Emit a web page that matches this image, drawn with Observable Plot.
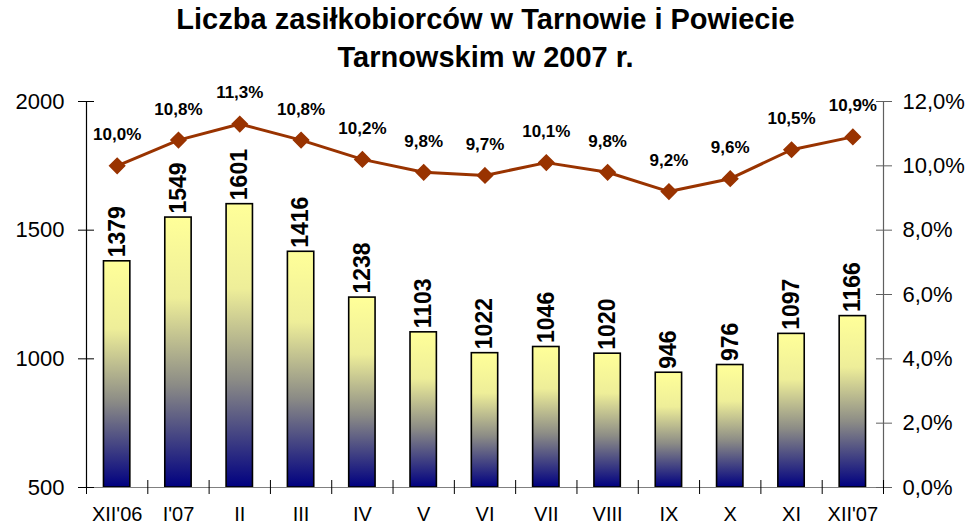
<!DOCTYPE html>
<html>
<head>
<meta charset="utf-8">
<script src="https://cdn.jsdelivr.net/npm/d3@7"></script>
<script src="https://cdn.jsdelivr.net/npm/@observablehq/plot@0.6"></script>
<style>
  html, body { margin: 0; padding: 0; background: #fff; }
  body { width: 975px; height: 528px; overflow: hidden; font-family: "Liberation Sans", Arial, sans-serif; }
  #title { height: 80px; text-align: center; font-weight: bold; font-size: 29px; line-height: 38px; color: #000; padding-top: 0px; box-sizing: border-box; margin-left: -4px; }
  svg { display: block; }
</style>
</head>
<body>
<div id="title">Liczba zasiłkobiorców w Tarnowie i Powiecie<br>Tarnowskim w 2007 r.</div>
<div id="chart"></div>
<script>
const months = ["XII'06", "I'07", "II", "III", "IV", "V", "VI", "VII", "VIII", "IX", "X", "XI", "XII'07"];
const recipients = [1379, 1549, 1601, 1416, 1238, 1103, 1022, 1046, 1020, 946, 976, 1097, 1166];
const rates = [10.0, 10.8, 11.3, 10.8, 10.2, 9.8, 9.7, 10.1, 9.8, 9.2, 9.6, 10.5, 10.9];
const leftTicks = [500, 1000, 1500, 2000];
const rightTicks = [0, 2, 4, 6, 8, 10, 12];

const yMin = 500, yMax = 2000, rateMax = 12;
const rateToY = r => yMin + r / rateMax * (yMax - yMin);
const yToRate = y => (y - yMin) / (yMax - yMin) * rateMax;
const fmtPct = v => v.toFixed(1).replace(".", ",") + "%";

const data = months.map((m, i) => ({i, m, n: recipients[i], r: rates[i], ry: rateToY(rates[i])}));
const idx = months.map((m, i) => i);
const bounds = months.map((m, i) => i - 0.5).concat([months.length - 0.5]);
const half = 0.215;

const chart = Plot.plot({
  width: 975,
  height: 448,
  marginTop: 21,
  marginBottom: 41,
  marginLeft: 86,
  marginRight: 92,
  style: {fontFamily: "'Liberation Sans', Arial, sans-serif", background: "white", color: "black"},
  x: {type: "linear", domain: [-0.5, months.length - 0.5]},
  y: {domain: [yMin, yMax]},
  marks: [
    Plot.rectY(data, {x1: d => d.i - half, x2: d => d.i + half, y1: yMin, y2: "n", fill: "url(#barGrad)", stroke: "black", strokeWidth: 1.6}),
    Plot.ruleY([yMin], {stroke: "#808080", strokeWidth: 1.2}),
    Plot.ruleX([-0.5], {stroke: "black", strokeWidth: 1.2}),
    Plot.ruleX([months.length - 0.5], {stroke: "#606060", strokeWidth: 1.2}),
    // left axis
    Plot.axisY({anchor: "left", ticks: leftTicks, tickSize: 8, tickPadding: 14, fontSize: 22, tickFormat: d => String(d), label: null, stroke: "black"}),
    Plot.axisY({anchor: "left", ticks: leftTicks, tickSize: 8, dx: 8, tickFormat: () => "", label: null, stroke: "black"}),
    // right axis
    Plot.axisY({anchor: "right", ticks: rightTicks.map(rateToY), tickFormat: d => fmtPct(yToRate(d)), tickSize: 8, tickPadding: 11, fontSize: 22, label: null, stroke: "#606060"}),
    Plot.axisY({anchor: "right", ticks: rightTicks.map(rateToY), tickSize: 8, dx: -8, tickFormat: () => "", label: null, stroke: "#606060"}),
    // x axis
    Plot.axisX({ticks: bounds, tickSize: 7, tickFormat: () => "", label: null, stroke: "black"}),
    Plot.axisX({ticks: bounds, tickSize: 7, dy: -7, tickFormat: () => "", label: null, stroke: "black"}),
    Plot.axisX({ticks: idx, tickSize: 0, tickPadding: 19, tickFormat: i => months[i], fontSize: 20, label: null}),
    // line
    Plot.line(data, {x: "i", y: "ry", stroke: "#993300", strokeWidth: 3}),
    Plot.dot(data, {x: "i", y: "ry", symbol: "diamond2", r: 6.8, fill: "#993300", stroke: "#993300"}),
    Plot.text(data, {x: "i", y: "ry", text: d => fmtPct(d.r), dy: -31, fontSize: 17, fontWeight: "bold", fill: "black"}),
    // bar labels
    Plot.text(data, {x: "i", y: "n", text: d => String(d.n), rotate: -90, textAnchor: "start", lineAnchor: "middle", dy: -4, fontSize: 23, fontWeight: "bold", fill: "black"})
  ]
});

const ns = "http://www.w3.org/2000/svg";
const defs = document.createElementNS(ns, "defs");
const grad = document.createElementNS(ns, "linearGradient");
grad.setAttribute("id", "barGrad");
grad.setAttribute("x1", "0"); grad.setAttribute("y1", "0");
grad.setAttribute("x2", "0"); grad.setAttribute("y2", "1");
[["0%", "#ffff99"], ["30%", "#eeee99"], ["62%", "#8c8c86"], ["100%", "#000080"]].forEach(([o, c]) => {
  const s = document.createElementNS(ns, "stop");
  s.setAttribute("offset", o); s.setAttribute("stop-color", c);
  grad.appendChild(s);
});
defs.appendChild(grad);
chart.insertBefore(defs, chart.firstChild);
document.getElementById("chart").appendChild(chart);
</script>
</body>
</html>
